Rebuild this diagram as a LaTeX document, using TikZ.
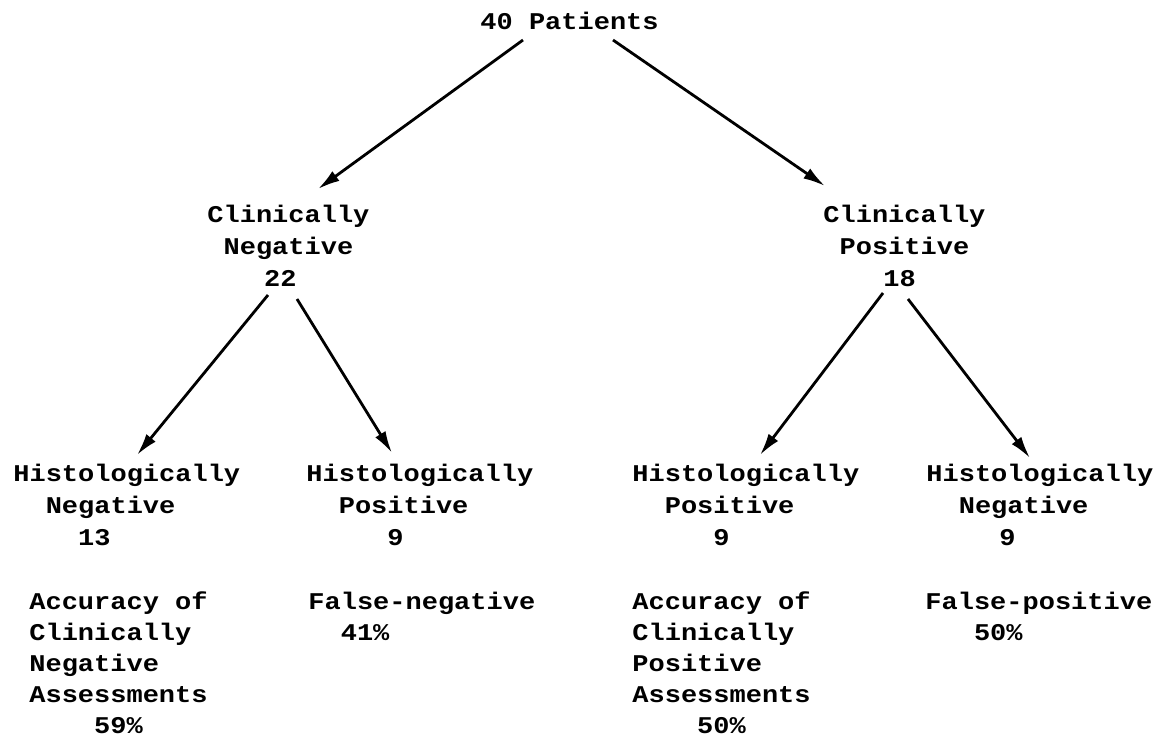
\documentclass[tikz,border=0pt]{standalone}
\usepackage{fontspec}
\newfontfamily\twfont[FakeStretch=1.125]{Liberation Mono}
\usetikzlibrary{arrows.meta}
\newcommand{\tb}[1]{\hspace*{\fpeval{0.675*#1}em}}
\tikzset{
  tw/.style={font=\twfont\bfseries\fontsize{12}{16}\selectfont, inner sep=0pt, anchor=base west, align=left},
  twlow/.style={tw, font=\twfont\bfseries\fontsize{12}{15.5}\selectfont},
  arr/.style={-{Latex[length=11pt,width=6pt]}, line width=1.4pt}
}
\begin{document}
\begin{tikzpicture}[x=0.5pt,y=-0.5pt]
\useasboundingbox (0,0) rectangle (1164,746);
% nodes sit on the baseline of their last line
\node[tw] (pat) at (480,29) {40 Patients};
\node[tw] (cneg) at (207,286) {Clinically\\\tb{1}Negative\\\tb{3.5}22};
\node[tw] (cpos) at (823,286) {Clinically\\\tb{1}Positive\\\tb{3.7}18};
\draw[arr] ([shift={(43,11)}]pat.base west) -- ([shift={(111,-97)}]cneg.base west);
\draw[arr] ([shift={(133,11)}]pat.base west) -- ([shift={(2,-100)}]cpos.base west);
\node[tw] (hneg1) at (13,545) {Histologically\\\tb{2}Negative\\\tb{4}13};
\node[tw] (hpos1) at (306,545) {Histologically\\\tb{2}Positive\\\tb{5}9};
\node[tw] (hpos2) at (632,545) {Histologically\\\tb{2}Positive\\\tb{5}9};
\node[tw] (hneg2) at (926,545) {Histologically\\\tb{2}Negative\\\tb{4.5}9};
\draw[arr] ([shift={(61,9)}]cneg.base west) -- ([shift={(124,-90)}]hneg1.base west);
\draw[arr] ([shift={(90,13)}]cneg.base west) -- ([shift={(86,-92)}]hpos1.base west);
\draw[arr] ([shift={(60,7)}]cpos.base west) -- ([shift={(128,-90)}]hpos2.base west);
\draw[arr] ([shift={(85,13)}]cpos.base west) -- ([shift={(104,-87)}]hneg2.base west);
\node[twlow] (accneg) at (29,733) {Accuracy of\\Clinically\\Negative\\Assessments\\\tb{4}59\%};
\node[twlow] (fneg) at (308,640) {False-negative\\\tb{2}41\%};
\node[twlow] (accpos) at (632,733) {Accuracy of\\Clinically\\Positive\\Assessments\\\tb{4}50\%};
\node[twlow] (fpos) at (925,640) {False-positive\\\tb{3}50\%};
\end{tikzpicture}
\end{document}
